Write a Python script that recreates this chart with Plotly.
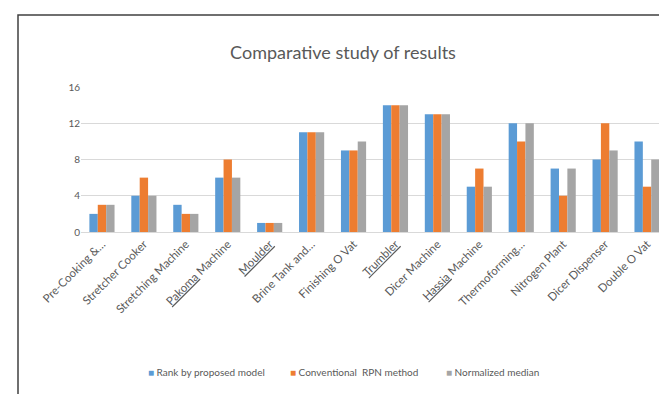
import plotly.graph_objects as go

categories = ["Pre-Cooking &…", "Stretcher Cooker", "Stretching Machine", "Pakoma Machine",
              "Moulder", "Brine Tank and…", "Finishing O Vat", "Trumbler", "Dicer Machine",
              "Hassia Machine", "Thermoforming…", "Nitrogen Plant", "Dicer Dispenser", "Double O Vat"]
tick_labels = ["Pre-Cooking &…", "Stretcher Cooker", "Stretching Machine",
               "<span style='text-decoration:underline'>Pakoma</span> Machine",
               "<span style='text-decoration:underline'>Moulder</span>", "Brine Tank and…",
               "Finishing O Vat", "<span style='text-decoration:underline'>Trumbler</span>",
               "Dicer Machine", "<span style='text-decoration:underline'>Hassia</span> Machine",
               "Thermoforming…", "Nitrogen Plant", "Dicer Dispenser", "Double O Vat"]
rank_proposed = [2, 4, 3, 6, 1, 11, 9, 14, 13, 5, 12, 7, 8, 10]
conventional_rpn = [3, 6, 2, 8, 1, 11, 9, 14, 13, 7, 10, 4, 12, 5]
normalized_median = [3, 4, 2, 6, 1, 11, 10, 14, 13, 5, 12, 7, 9, 8]
y_ticks = [0, 4, 8, 12, 16]

series = [("Rank by proposed model", rank_proposed, "#5B9BD5"),
          ("Conventional  RPN method", conventional_rpn, "#ED7D31"),
          ("Normalized median", normalized_median, "#A5A5A5")]
legend_x = [138, 280, 436]

fig = go.Figure()
for name, vals, col in series:
    fig.add_trace(go.Bar(x=categories, y=vals, name=name, marker_color=col, marker_line_width=0,
                         showlegend=False))

W, H = 667, 394
L, R, T, B = 73, 7, 79, 170
pw, ph = W - L - R, H - T - B

annotations = []
for (name, vals, col), lx in zip(series, legend_x):
    annotations.append(dict(
        text=f"<span style='color:{col}'>■</span> {name}",
        xref="paper", yref="paper", x=(lx - L) / pw, y=(224 - 364) / ph,
        xanchor="left", yanchor="middle", showarrow=False,
        font=dict(size=10, color="#595959")))

fig.update_layout(
    width=W, height=H,
    margin=dict(l=L, r=R, t=T, b=B, autoexpand=False),
    paper_bgcolor="white", plot_bgcolor="white",
    font=dict(family="Lato, Carlito, sans-serif", color="#595959"),
    title=dict(text="Comparative study of results", x=(335 - L) / pw, xref="paper", xanchor="center",
               y=1 - 45 / H, yanchor="middle", font=dict(size=18, color="#595959")),
    barmode="group", bargap=0.4, bargroupgap=0,
    xaxis=dict(tickangle=-45, tickfont=dict(size=11.5, color="#595959"), showgrid=False,
               tickmode="array", tickvals=categories, ticktext=tick_labels,
               showline=True, linecolor="#D9D9D9", ticks=""),
    yaxis=dict(range=[0, 16], tickvals=y_ticks, showgrid=True, gridcolor="#D9D9D9", zeroline=False,
               tickfont=dict(size=10, color="#595959"), ticks="", showline=False),
    annotations=annotations,
    shapes=[dict(type="rect", xref="paper", yref="paper",
                 x0=(10 - L) / pw, x1=(W + 20 - L) / pw, y0=(224 - H - 20) / ph, y1=(224 - 7) / ph,
                 line=dict(color="#404040", width=1.5), fillcolor="rgba(0,0,0,0)", layer="below")],
)
fig.write_html("out.html")
